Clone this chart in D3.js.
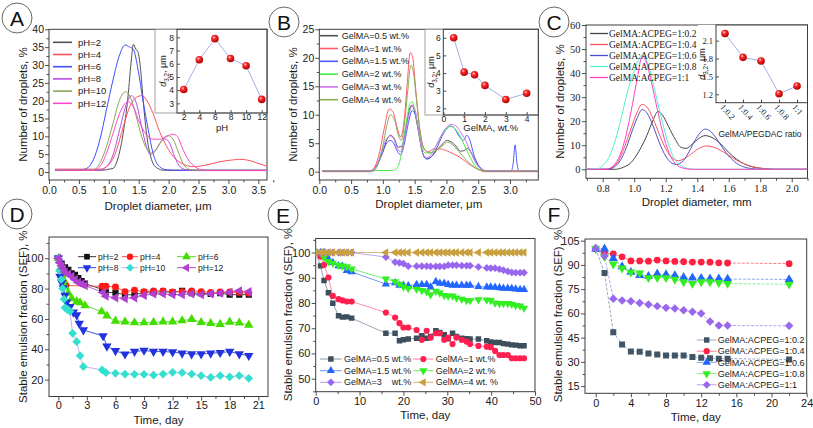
<!DOCTYPE html>
<html><head><meta charset="utf-8">
<script src="https://d3js.org/d3.v7.min.js"></script>
<style>html,body{margin:0;padding:0;background:#fff;overflow:hidden}svg{display:block}</style>
</head><body>
<script>
// ================= DATA =================
// Panel A: number of droplets (%) vs droplet diameter (µm), for each pH
const A_labels = ['pH=2','pH=4','pH=6','pH=8','pH=10','pH=12'];
const A_pH2 = [[0.1,0.5],[0.9,0.5],[1.0,0.8],[1.07,1.0],[1.16,4.3],[1.24,10.8],[1.32,21],[1.38,32],[1.41,35.8],[1.45,34.5],[1.49,33.5],[1.53,29],[1.57,21],[1.63,10.8],[1.69,5],[1.74,2.4],[1.82,1.0],[1.92,0.5],[3.7,0.5]];
const A_pH4 = [[0.1,0.8],[0.85,0.8],[1.02,2.4],[1.13,6.2],[1.24,12.6],[1.35,18.3],[1.46,20.9],[1.55,21.4],[1.63,20.2],[1.74,16.4],[1.85,11.3],[1.97,7.1],[2.08,4.3],[2.22,2.4],[2.41,1.5],[2.64,2.0],[2.86,2.9],[3.08,3.4],[3.19,3.55],[3.36,3.2],[3.53,2.2],[3.7,1.4]];
const A_pH6 = [[0.1,0.5],[0.51,0.5],[0.63,1.0],[0.74,3.4],[0.85,9],[0.96,17.4],[1.07,25.8],[1.18,32.8],[1.27,35.6],[1.35,35],[1.41,34.4],[1.49,28.6],[1.57,20.2],[1.66,11.8],[1.74,5.2],[1.85,1.5],[1.97,0.6],[2.1,0.5],[3.7,0.5]];
const A_pH8 = [[0.1,0.4],[0.85,0.5],[0.96,1.5],[1.07,4.8],[1.18,11.8],[1.3,19.3],[1.38,21.4],[1.46,19.3],[1.55,12.6],[1.63,7.1],[1.69,5.0],[1.77,5.7],[1.85,8.0],[1.94,9.3],[2.02,8.0],[2.1,4.3],[2.19,1.5],[2.3,0.6],[2.45,0.4],[3.7,0.4]];
const A_pH10 = [[0.1,0.5],[0.72,0.5],[0.85,2.4],[0.96,7.1],[1.07,13.6],[1.18,20.2],[1.28,22.5],[1.38,20.2],[1.46,15.5],[1.55,9.9],[1.63,6.6],[1.71,5.3],[1.8,6.5],[1.91,9.4],[1.99,10.2],[2.08,9.0],[2.16,5.7],[2.24,2.4],[2.36,0.7],[2.47,0.5],[3.7,0.5]];
const A_pH12 = [[0.1,0.5],[0.74,0.5],[0.85,1.5],[0.96,5.2],[1.07,10.8],[1.18,16.4],[1.32,19.7],[1.41,18.3],[1.52,13.6],[1.63,10.4],[1.74,9.2],[1.85,9.2],[1.97,10.0],[2.07,10.6],[2.15,9.9],[2.22,7.1],[2.33,3.4],[2.44,1.5],[2.58,0.5],[2.7,0.4],[3.7,0.4]];
// Inset A: d3,2 (µm) vs pH
const A_ins_pH = [2,4,6,8,10,12];
const A_ins_d32 = [4.05,6.3,7.9,6.4,5.85,3.3];

// Panel B: number of droplets (%) vs diameter (µm) for GelMA concentration
const B_labels = ['GelMA=0.5 wt.%','GelMA=1 wt.%','GelMA=1.5 wt.%','GelMA=2 wt.%','GelMA=3 wt.%','GelMA=4 wt.%'];
const B_05 = [[0.05,0.2],[0.8,0.2],[0.9,1],[1.0,3.5],[1.07,5.8],[1.12,6.4],[1.18,5.8],[1.24,4.3],[1.3,4.5],[1.36,7.5],[1.42,11],[1.46,11.7],[1.5,10.5],[1.56,7],[1.62,3.5],[1.68,2.3],[1.75,2.5],[1.85,3.8],[1.95,5],[2.0,5.5],[2.08,5.2],[2.15,4.5],[2.22,3.6],[2.28,3.7],[2.33,4.1],[2.38,3.5],[2.45,2],[2.52,0.8],[2.6,0.2],[3.45,0.2]];
const B_1 = [[0.05,0],[0.8,0],[0.88,1],[0.95,3.5],[1.02,7.5],[1.1,11],[1.16,10.5],[1.22,8],[1.28,6.1],[1.33,8.5],[1.38,15],[1.43,20.9],[1.47,20],[1.52,14],[1.58,7.5],[1.65,4],[1.72,3.5],[1.8,4],[1.9,4],[2.0,3.7],[2.1,3.2],[2.2,2.6],[2.3,1.8],[2.4,1],[2.5,0.4],[2.6,0],[3.45,0]];
const B_15 = [[0.05,0.1],[0.82,0.1],[0.9,1],[0.98,3],[1.05,4.8],[1.11,5.5],[1.17,5],[1.23,3.5],[1.28,3],[1.34,5],[1.4,8.5],[1.46,10.7],[1.5,10.3],[1.56,7.5],[1.62,3.5],[1.69,2.2],[1.76,2.6],[1.85,4.2],[1.93,6.2],[2.0,7.5],[2.06,8],[2.12,7.7],[2.2,6.2],[2.27,5.5],[2.32,6.4],[2.37,5.5],[2.43,3],[2.5,1.2],[2.58,0.3],[2.65,0.1],[3.02,0.1],[3.05,1.5],[3.08,4.7],[3.11,1.5],[3.14,0.1],[3.45,0.1]];
const B_2 = [[0.05,0.2],[1.15,0.2],[1.22,0.6],[1.28,2.5],[1.33,6],[1.38,9.5],[1.43,12],[1.46,12.3],[1.5,11],[1.55,8],[1.61,4.5],[1.67,3.3],[1.75,3.3],[1.85,4.8],[1.93,6.5],[2.0,7.5],[2.06,8],[2.13,7.6],[2.2,6.5],[2.28,4.7],[2.36,2.8],[2.44,1.2],[2.52,0.4],[2.6,0.2],[3.45,0.2]];
const B_3 = [[0.05,0.2],[0.82,0.2],[0.9,1],[0.98,3.5],[1.05,5.6],[1.11,6.3],[1.17,5.8],[1.23,4],[1.28,3.5],[1.34,6],[1.4,9.5],[1.46,11.5],[1.5,11],[1.56,7.5],[1.62,3.5],[1.69,2.4],[1.76,3],[1.85,4.8],[1.93,6.6],[2.0,7.8],[2.07,8.3],[2.15,8],[2.22,7],[2.3,5.5],[2.38,3.5],[2.46,1.6],[2.54,0.5],[2.62,0.2],[3.45,0.2]];
const B_4 = [[0.05,0.1],[0.85,0.1],[0.92,1.2],[1.0,4.5],[1.06,8],[1.12,10],[1.18,9.2],[1.24,6.5],[1.29,5.5],[1.34,8.5],[1.39,14],[1.44,18.7],[1.48,17.5],[1.53,12.5],[1.6,6],[1.67,3.7],[1.75,3.3],[1.85,3.8],[1.95,4.7],[2.02,5.2],[2.1,4.7],[2.2,3.5],[2.3,2.2],[2.4,1.1],[2.5,0.4],[2.6,0.1],[3.45,0.1]];
// Inset B: d3,2 (µm) vs GelMA wt.%
const B_ins_wt = [0.5,1,1.5,2,3,4];
const B_ins_d32 = [6.0,4.05,3.9,3.3,2.5,2.85];

// Panel C: number of droplets (%) vs diameter (mm) for GelMA:ACPEG ratio
const C_labels = ['GelMA:ACPEG=1:0.2','GelMA:ACPEG=1:0.4','GelMA:ACPEG=1:0.6','GelMA:ACPEG=1:0.8','GelMA:ACPEG=1:1'];
const C_02 = [[0.7,0],[0.88,0],[0.93,0.8],[0.98,2.8],[1.03,7.5],[1.08,14],[1.12,20.5],[1.15,24],[1.18,22.5],[1.22,17.5],[1.26,12.5],[1.3,9],[1.33,8.7],[1.37,10.5],[1.41,12.8],[1.45,14],[1.5,13],[1.55,10.5],[1.6,7],[1.65,4.2],[1.7,2.2],[1.75,1],[1.82,0.3],[1.9,0],[2.1,0]];
const C_04 = [[0.7,0],[0.82,0],[0.86,0.8],[0.9,3.5],[0.94,9.5],[0.98,17],[1.02,24],[1.05,27],[1.08,26],[1.12,21],[1.16,14.5],[1.2,8.5],[1.24,4.8],[1.28,3.6],[1.32,4.5],[1.37,6.8],[1.42,9],[1.46,9.7],[1.5,9.3],[1.55,7.8],[1.6,5.8],[1.65,3.8],[1.7,2.2],[1.75,1.1],[1.82,0.3],[1.9,0],[2.1,0]];
const C_06 = [[0.7,0],[0.83,0],[0.87,0.8],[0.91,3.5],[0.95,9],[0.99,16.5],[1.02,21.5],[1.05,24.8],[1.08,23.5],[1.12,18],[1.16,11],[1.2,5.5],[1.24,2.5],[1.27,2],[1.31,3.5],[1.35,7.5],[1.39,12.5],[1.43,16],[1.45,16.7],[1.48,16],[1.52,13],[1.56,9],[1.6,5.5],[1.65,2.5],[1.7,0.9],[1.76,0.2],[1.82,0],[2.1,0]];
const C_08 = [[0.7,0],[0.77,0.3],[0.8,1.5],[0.84,5],[0.88,12],[0.92,22],[0.96,33],[1.0,41],[1.03,46],[1.05,47.5],[1.07,46.5],[1.1,41],[1.13,33],[1.17,22],[1.21,12],[1.25,5],[1.29,1.8],[1.33,0.5],[1.38,0],[2.1,0]];
const C_1 = [[0.7,0],[0.82,0],[0.86,1],[0.9,4.5],[0.94,12],[0.98,24],[1.02,38],[1.05,47],[1.08,44],[1.11,36],[1.15,24],[1.19,13],[1.23,5.5],[1.27,1.8],[1.31,0.5],[1.36,0],[2.1,0]];
// Inset C: d3,2 vs GelMA/PEGDAC ratio
const C_ins_ratio = ['1:0.2','1:0.4','1:0.6','1:0.8','1:1'];
const C_ins_d32 = [2.22,1.82,1.76,1.21,1.34];

// Panel D: stable emulsion fraction (%) vs time (day), pH series  [day, SEF]
const D_labels = ['pH=2','pH=4','pH=6','pH=8','pH=10','pH=12'];
const D_pH2 = [[0,100],[0.35,96.5],[0.7,94],[1.05,92.3],[1.4,90],[1.75,89],[2.1,87],[2.45,85],[2.8,83.3],[4.6,79.5],[5,77.5],[6,77.3],[7,76],[8,75.8],[9,77.7],[10,77.5],[11,78],[12,77.5],[13,78.5],[14,77],[15,77],[16,76.5],[17,77],[18,76],[19,76],[20,76]];
const D_pH4 = [[0,100],[0.2,92],[0.4,88],[0.6,84],[0.8,82],[4.6,81.5],[5,81.5],[6,81],[7,78],[8,79],[9,78],[10,78.5],[11,78.5],[12,77.8],[13,78],[14,78.5],[15,78],[16,77.5],[17,77.8],[18,77.8],[19,77.5],[20,77]];
const D_pH6 = [[0,100],[0.17,93],[0.35,88.5],[0.52,85.5],[0.7,81.5],[1.05,77],[1.4,73.5],[1.93,71.5],[2.28,70.8],[2.8,68.8],[4.55,64.8],[5.1,62],[6,58.7],[7,58.2],[8,57.6],[9,57.6],[10,57.8],[11,58.2],[12,58.2],[13,58.9],[14,59.8],[15,57.8],[16,57.1],[17,56.5],[18,58],[19,57.4],[20,56]];
const D_pH8 = [[0,100],[0.17,88],[0.35,84],[0.52,80.5],[0.7,75.5],[0.875,71],[1.22,68],[1.58,64.4],[1.93,62.6],[2.2,57],[2.63,52.7],[4.7,48.8],[5.1,42],[6,39],[7,36.8],[8,38.5],[9,39.3],[10,38.5],[11,38.5],[12,38.2],[13,37.4],[14,36.9],[15,36.9],[16,37.4],[17,37.8],[18,38.5],[19,36.9],[20,35.8]];
const D_pH10 = [[0,100],[0.15,92],[0.3,86],[0.45,80],[0.6,73],[0.7,67.5],[0.875,66.5],[1.05,66],[1.22,65],[1.5,50.5],[1.93,45],[2.28,35.8],[2.63,28.6],[4.6,26.4],[5,24.6],[6,24.2],[7,23.7],[8,23.5],[9,23.5],[10,23],[11,23.7],[12,24.8],[13,24.6],[14,23.7],[15,22.6],[16,21.5],[17,22.6],[18,21.8],[19,22.6],[20,20.9]];
const D_pH12 = [[0,100],[0.17,97],[0.35,95],[0.52,93],[0.7,91],[1.05,89.5],[1.4,88],[1.75,86],[2.1,84],[2.45,83],[2.8,82],[4.7,77.5],[5,75],[6,74],[7,73.5],[8,74],[9,75.5],[10,76.5],[11,76.5],[12,76],[13,76],[14,76.5],[15,76],[16,76.5],[17,77],[18,77.5],[19,78.5],[20,78]];

// Panel E: SEF (%) vs time (day) for GelMA concentration
const E_labels = ['GelMA=0.5 wt.%','GelMA=1 wt.%','GelMA=1.5 wt.%','GelMA=2 wt.%','GelMA=3    wt.%','GelMA=4 wt. %'];
const E_days = [0,1.1,1.9,2.9,3.9,5.2,6.1,7.1,8.2,16,18.1,19.1,20,21.1,23,24.2,25.3,26.2,27.4,28.3,29.3,30.2,31.2,32.1,33.3,34.4,35.2,37.1,39,39.9,40.9,41.9,42.8,43.8,44.7,45.6,46.6,47.5];
const E_05 = [100,94.7,88.9,84.1,79.9,74.9,74.4,74.5,74,68,68,65,65.4,65.7,66,67,66,66.7,69,68.3,67.4,65.8,68,66.7,66,65.8,65.7,65.7,65,64.5,64.3,64.3,63.9,63.7,63.4,63.3,63.1,63.1];
const E_1 = [100,98.4,95.1,90.1,82.8,81.5,81,80.6,80.6,76.2,74.2,72,70.3,70.3,69.3,65.4,69,66.3,68,68,65.4,66.3,63.7,66.3,65.4,64.7,63.7,63,62.7,62.5,61,59.4,59.4,59.4,58.1,58.1,58.1,58.1];
const E_15 = [100,100,100,97.5,96,94.7,94.5,92.8,92.3,87.5,88,87,87,86.8,87.3,87.3,87.3,86.3,88.5,87.8,87.8,87.3,87,87,87,87,87,86.5,86.3,86.3,86.2,86,85.8,85.8,85.7,85.5,85.3,85.3];
const E_2 = [100,100,98,96.5,95.8,95,94.7,94.4,93.5,89.5,88.5,87.5,86.5,85.8,85.5,85,84.5,83.3,84.7,84,83,82.8,82.8,82,81.5,81,81,81.3,81.2,81,80,79.8,79.8,79.8,79.5,79,78.8,78];
const E_3 = [100,100,100,100,100,100,100,100,100,98.2,96.2,95.9,95.6,94.6,94.6,94.6,94.6,94.5,94.5,94.5,94.5,95,95,95,94.8,94.8,94.8,94.3,93.9,93.8,93.8,93.4,93,92.5,92.1,92,92,92];
const E_4 = [100,100,100,100,100,100,100,100,100,100,100,100,100,100,100,100,100,100,100,100,100,100,100,100,100,100,100,100,100,100,100,100,100,100,100,100,100,100];

// Panel F: SEF (%) vs time (day) for GelMA:ACPEG ratio
const F_labels = ['GelMA:ACPEG=1:0.2','GelMA:ACPEG=1:0.4','GelMA:ACPEG=1:0.6','GelMA:ACPEG=1:0.8','GelMA:ACPEG=1:1'];
const F_days = [0,1,2,3,4,5,6,7,8,9,10,11,12,13,14,15,22];
const F_02 = [100,85,48.3,40.8,36.4,36.2,35.2,34.5,34,34,34,33,32.5,32.3,32,32,31.5];
const F_04 = [100,97.7,96.8,95,92.5,92.5,92.3,93,92.5,92.2,92,91.8,91.8,91.7,91.3,91.2,90.8];
const F_06 = [100,100,94,89,85.5,83.5,83,84.5,84,83.5,82.3,82,81.8,81.5,81.5,81.3,81];
const F_08 = [100,95,90.5,88,85.5,85,82,82,82,81,79.5,78.5,79.5,79.5,79,78.5,78];
const F_1 = [100,95.5,69,68,67.5,66.5,65.5,64.5,63.5,63,62,61,60,55,52.5,52.5,52.3];

// tick values
const A_xt = [0,0.5,1,1.5,2,2.5,3,3.5], A_yt = [0,5,10,15,20,25,30,35,40];
const A_ins_xt = [2,4,6,8,10,12], A_ins_yt = [3,4,5,6,7,8];
const B_xt = [0,0.5,1,1.5,2,2.5,3], B_yt = [0,5,10,15,20,25];
const B_ins_xt = [0,1,2,3,4], B_ins_yt = [2,3,4,5,6];
const C_xt = [0.8,1.0,1.2,1.4,1.6,1.8,2.0], C_yt = [0,10,20,30,40,50,60];
const C_ins_yt = [1.2,1.5,1.8,2.1];
const D_xt = [0,3,6,9,12,15,18,21], D_yt = [20,40,60,80,100];
const E_xt = [0,10,20,30,40,50], E_yt = [50,60,70,80,90,100];
const F_xt = [0,4,8,12,16,20,24], F_yt = [15,30,45,60,75,90,105];

// ================= DRAWING =================
const SANS = '"Liberation Sans", Arial, sans-serif';
const SERIF = '"Liberation Serif", "Times New Roman", serif';
const AXC = '#3c3c3c';
const svg = d3.select('body').append('svg').attr('width',813).attr('height',428)
  .style('font-family',SANS);
const defs = svg.append('defs');
const grad = defs.append('radialGradient').attr('id','ball').attr('cx','0.38').attr('cy','0.34').attr('r','0.66');
grad.append('stop').attr('offset','0').attr('stop-color','#ffe0e0');
grad.append('stop').attr('offset','0.32').attr('stop-color','#ff2b2b');
grad.append('stop').attr('offset','1').attr('stop-color','#b00000');

let clipN = 0;
function minorBetween(arr){const o=[];for(let i=0;i<arr.length-1;i++)o.push((arr[i]+arr[i+1])/2);return o;}

function axes(c){
  const x = d3.scaleLinear().domain(c.xd).range([c.L,c.R]);
  const y = d3.scaleLinear().domain(c.yd).range([c.B,c.T]);
  const g = svg.append('g');
  if (c.bg) g.append('rect').attr('x',c.bg[0]).attr('y',c.bg[1]).attr('width',c.bg[2]).attr('height',c.bg[3])
      .attr('fill','#fff').attr('stroke',c.bgStroke||'none').attr('stroke-width',0.8);
  const font = c.font||SANS, fs = c.fs||11;
  const tk = c.tk===undefined?4:c.tk, tkm = c.tkm===undefined?2.5:c.tkm;
  if (c.xm) g.append('g').attr('transform',`translate(0,${c.B})`)
      .call(d3.axisBottom(x).tickValues(c.xm).tickSize(tkm).tickFormat(''));
  if (c.ym) g.append('g').attr('transform',`translate(${c.L},0)`)
      .call(d3.axisLeft(y).tickValues(c.ym).tickSize(tkm).tickFormat(''));
  if (c.xt) g.append('g').attr('transform',`translate(0,${c.B})`)
      .call(d3.axisBottom(x).tickValues(c.xt).tickFormat(c.xf||(d=>d)).tickSize(tk).tickPadding(c.xpad===undefined?2:c.xpad));
  if (c.yt) g.append('g').attr('transform',`translate(${c.L},0)`)
      .call(d3.axisLeft(y).tickValues(c.yt).tickFormat(c.yf||(d=>d)).tickSize(tk).tickPadding(c.ypad===undefined?1.5:c.ypad));
  g.selectAll('.domain').remove();
  g.selectAll('.tick line').attr('stroke',AXC).attr('stroke-width',0.9);
  g.selectAll('.tick text').attr('font-family',font).attr('font-size',fs).attr('fill','#1a1a1a');
  g.append('rect').attr('x',c.L).attr('y',c.T).attr('width',c.R-c.L).attr('height',c.B-c.T)
    .attr('fill','none').attr('stroke',AXC).attr('stroke-width',1);
  const id = 'clip'+(clipN++);
  defs.append('clipPath').attr('id',id).append('rect').attr('x',c.L).attr('y',c.T).attr('width',c.R-c.L).attr('height',c.B-c.T);
  const plot = g.append('g').attr('clip-path',`url(#${id})`);
  return {x,y,g,plot,c};
}

function title(x,y,txt,fs,rot){
  const t = svg.append('text').attr('font-size',fs||11.5).attr('fill','#1a1a1a').attr('text-anchor','middle')
    .attr('dy','0.35em').text(txt);
  if (rot) t.attr('transform',`translate(${x},${y}) rotate(-90)`); else t.attr('x',x).attr('y',y);
  return t;
}
function d32title(x,y,fs){
  const t = svg.append('text').attr('font-size',fs).attr('fill','#1a1a1a').attr('text-anchor','middle')
    .attr('transform',`translate(${x},${y}) rotate(-90)`).attr('dy','0.35em');
  t.append('tspan').attr('font-style','italic').text('d');
  t.append('tspan').attr('font-size',fs*0.7).attr('dy',fs*0.3).text('3,2');
  t.append('tspan').attr('dy',-fs*0.3).text(', μm');
}
function letter(cx,cy,L){
  svg.append('circle').attr('cx',cx).attr('cy',cy).attr('r',15).attr('fill','none').attr('stroke','#555').attr('stroke-width',0.9);
  svg.append('text').attr('x',cx).attr('y',cy).attr('dy','0.36em').attr('text-anchor','middle').attr('font-size',21).attr('fill','#111').text(L);
}

const SYM = {square:[d3.symbolSquare,0],circle:[d3.symbolCircle,0],up:[d3.symbolTriangle,0],down:[d3.symbolTriangle,180],diamond:[d3.symbolSquare,45],left:[d3.symbolTriangle,-90]};
function symPath(g,pts,type,color,size,xs,ys){
  const [s,r] = SYM[type];
  g.selectAll(null).data(pts).join('path').attr('d',d3.symbol(s,size)())
    .attr('transform',d=>`translate(${xs(d)},${ys(d)}) rotate(${r})`).attr('fill',color);
}
function curve(P,data,color,w,smooth,dash){
  const line = d3.line().x(d=>P.x(d[0])).y(d=>P.y(d[1])).curve(smooth?d3.curveMonotoneX:d3.curveLinear);
  const p = P.plot.append('path').datum(data).attr('d',line).attr('fill','none').attr('stroke',color).attr('stroke-width',w||1);
  if (dash) p.attr('stroke-dasharray',dash);
}
function legendLine(x1,x2,tx,y,color,label,fs,font,lw,sym,mcol,msize){
  svg.append('line').attr('x1',x1).attr('x2',x2).attr('y1',y).attr('y2',y).attr('stroke',color).attr('stroke-width',lw||1.5);
  if (sym) symPath(svg,[0],sym,mcol,msize,()=> (x1+x2)/2,()=>y);
  svg.append('text').attr('x',tx).attr('y',y).attr('dy','0.35em').attr('font-size',fs).attr('font-family',font||SANS)
    .attr('fill','#1a1a1a').style('white-space','pre').attr('xml:space','preserve').text(label);
}
function inset(P, xv, yv, xsc){
  const line = d3.line().x((d,i)=>xsc(i)).y(d=>P.y(d));
  P.plot.append('path').datum(yv).attr('d',line).attr('fill','none').attr('stroke','#9fb0e6').attr('stroke-width',1);
  P.plot.selectAll(null).data(yv).join('circle').attr('cx',(d,i)=>xsc(i)).attr('cy',d=>P.y(d)).attr('r',3.8).attr('fill','url(#ball)');
}

// ---------- Panel A ----------
const A_col = ['#505050','#ff5060','#3f4dff','#b64ae4','#88a655','#ff48c8'];
const PA = axes({L:49,R:267,T:29.3,B:180,xd:[0,3.645],yd:[-2.24,40],xt:A_xt,yt:A_yt,
  xm:minorBetween(A_xt).concat([3.75]),ym:minorBetween(A_yt),xf:d3.format('.1f'),fs:10.5,xpad:2.3,ypad:1});
[A_pH2,A_pH4,A_pH6,A_pH8,A_pH10,A_pH12].forEach((d,i)=>curve(PA,d,A_col[i],1,true));
A_labels.forEach((l,i)=>legendLine(53,72,78,42.3+12.2*i,A_col[i],l,9.5,SANS,1.6));
const PAi = axes({L:177,R:267,T:29.3,B:113,xd:[1.14,12.68],yd:[2.27,8.61],xt:A_ins_xt,yt:A_ins_yt,
  tk:-3,fs:8.5,xpad:1.2,ypad:3,bg:[155,29.3,112,83.7],bgStroke:'#8a8a8a'});
inset(PAi,A_ins_pH,A_ins_d32,i=>PAi.x(A_ins_pH[i]));
title(222,128,'pH',9.5);
d32title(163,71,9);
title(158,206,'Droplet diameter, μm',11.5);
title(22.7,104.6,'Number of droplets, %',11.5,true);
letter(17,18,'A');

// ---------- Panel B ----------
const B_col = ['#555555','#ff5a6a','#4a5cff','#44ee44','#d070f0','#8aaa55'];
const PB = axes({L:319.3,R:538.3,T:29.3,B:180,xd:[0,3.445],yd:[-1.46,25],xt:B_xt,yt:B_yt,
  xm:minorBetween(B_xt).concat([3.25]),ym:minorBetween(B_yt),xf:d3.format('.1f'),fs:10.5,xpad:2.5,ypad:1});
[B_05,B_1,B_15,B_2,B_3,B_4].forEach((d,i)=>curve(PB,d,B_col[i],1,true));
B_labels.forEach((l,i)=>legendLine(320,338,341.7,35.7+12.8*i,B_col[i],l,9,SANS,1.6));
const PBi = axes({L:443.3,R:538.3,T:29.3,B:115,xd:[0,4.56],yd:[1.62,6.48],xt:B_ins_xt,yt:B_ins_yt,
  tk:-3,fs:8.5,xpad:0.8,ypad:2.6,bg:[425,29.3,113.3,85.7],bgStroke:'#8a8a8a'});
inset(PBi,B_ins_wt,B_ins_d32,i=>PBi.x(B_ins_wt[i]));
title(490.8,128,'GelMA, wt.%',9.5);
d32title(431,72,9);
title(428.8,204,'Droplet diameter, μm',11.5);
title(292.7,104.6,'Number of droplets, %',11.5,true);
letter(284,22,'B');

// ---------- Panel C ----------
const C_col = ['#454545','#ff5060','#4a50c8','#55f0d0','#ff40c0'];
const PC = axes({L:586,R:807.5,T:25,B:178.3,xd:[0.694,2.1],yd:[-3.75,60],xt:C_xt,yt:C_yt,
  xm:[0.7,0.9,1.1,1.3,1.5,1.7,1.9,2.1],ym:minorBetween(C_yt),xf:d3.format('.1f'),font:SERIF,fs:10.5,xpad:2.3,ypad:1.5});
[C_02,C_04,C_06,C_08,C_1].forEach((d,i)=>curve(PC,d,C_col[i],1,true));
C_labels.forEach((l,i)=>legendLine(590,608,609,33.5+11*i,C_col[i],l,9.5,SERIF,1.3));
const PCi = axes({L:716,R:807.5,T:25,B:102.7,xd:[-0.5,4.58],yd:[1.059,2.363],yt:C_ins_yt,yf:d3.format('.1f'),
  tk:-3,font:SERIF,fs:8.5,ypad:3,bg:[698,25,109.5,77.7]});
PCi.g.append('g').attr('transform',`translate(0,${102.7})`).call(d3.axisBottom(PCi.x).tickValues([0,1,2,3,4]).tickSize(-3).tickFormat(''))
  .call(g=>{g.select('.domain').remove();g.selectAll('line').attr('stroke',AXC);});
C_ins_ratio.forEach((r,i)=>{
  svg.append('text').attr('font-family',SERIF).attr('font-size',8.5).attr('fill','#1a1a1a')
    .attr('transform',`translate(${PCi.x(i)-3},${105.5}) rotate(48)`).attr('dy','0.35em').text(r);
});
inset(PCi,C_ins_ratio,C_ins_d32,i=>PCi.x(i));
title(760,134,'GelMA/PEGDAC ratio',8.5);
d32title(702,64,9);
title(696.7,202,'Droplet diameter, mm',11.5);
title(560,101.6,'Number of droplets, %',11.5,true);
letter(554,22,'C');

// ---------- Panel D ----------
const D_mcol = ['#111111','#ff1a1a','#44dd00','#2233dd','#33e0d0','#b040d0'];
const D_lcol = ['#333333','#ff4444','#55dd22','#3344dd','#b8a8e8','#b050d8'];
const D_sym = ['square','circle','up','down','diamond','left'];
const PD = axes({L:49,R:268,T:237,B:396.5,xd:[-0.98,22.02],yd:[8.9,114],xt:D_xt,yt:D_yt,
  xm:minorBetween(D_xt),ym:[30,50,70,90,110],fs:11,xpad:0.8,ypad:1.5});
const D_all = [D_pH2,D_pH4,D_pH6,D_pH8,D_pH10,D_pH12];
D_all.forEach((d,i)=>curve(PD,d,D_lcol[i],0.9,false));
D_all.forEach((d,i)=>symPath(PD.plot,d,D_sym[i],D_mcol[i],38,p=>PD.x(p[0]),p=>PD.y(p[1])));
const D_lx = [[78,96,98],[122,138,140],[177,196,198]];
D_labels.forEach((l,i)=>{const c=D_lx[i%3],y=i<3?256.7:267.7;
  legendLine(c[0],c[1],c[2],y,D_lcol[i],l,8.5,SANS,1,D_sym[i],D_mcol[i],32);});
title(158.5,420,'Time, day',11.5);
title(22.7,316.7,'Stable emulsion fraction (SEF), %',11.5,true);
letter(17,214,'D');

// ---------- Panel E ----------
const E_mcol = ['#3d4f5c','#ff2050','#2266ff','#33ee22','#9966ee','#c8a040'];
const E_lcol = ['#8a9aaa','#ff80a0','#6a90ff','#66ee66','#b0a0f0','#d2b070'];
const E_sym = ['square','circle','up','down','diamond','left'];
const PE = axes({L:315.7,R:535,T:238.5,B:391.7,xd:[0,50],yd:[44.85,105.55],xt:E_xt,yt:E_yt,
  xm:minorBetween(E_xt),ym:[45,55,65,75,85,95,105],fs:11,xpad:2,ypad:1.3});
const E_all = [E_05,E_1,E_15,E_2,E_3,E_4];
E_all.forEach((v,i)=>curve(PE,d3.zip(E_days,v),E_lcol[i],0.9,false));
E_all.forEach((v,i)=>symPath(PE.plot,d3.zip(E_days,v),E_sym[i],E_mcol[i],30,p=>PE.x(p[0]),p=>PE.y(p[1])));
const E_lx = [[320,341.7,344],[413.3,433.3,435.7]];
E_labels.forEach((l,i)=>{const c=E_lx[i%2],y=[359,370.7,382.3][Math.floor(i/2)];
  legendLine(c[0],c[1],c[2],y,E_lcol[i],l,9,SANS,1,E_sym[i],E_mcol[i],30);});
title(425.3,415,'Time, day',11.5);
title(288.3,315,'Stable emulsion fraction (SEF), %',11.5,true);
letter(283,215,'E');

// ---------- Panel F ----------
const F_mcol = ['#405565','#ff2040','#2266ff','#33ee22','#9966ee'];
const F_lcol = ['#9aa8c8','#ff8090','#8aa8ee','#88ee88','#b8a0f0'];
const F_sym = ['square','circle','up','down','diamond'];
const PF = axes({L:585,R:806.7,T:239,B:393.3,xd:[-1.22,24],yd:[10.54,106.05],xt:F_xt,yt:F_yt,
  xm:minorBetween(F_xt),ym:[22.5,37.5,52.5,67.5,82.5,97.5],fs:11,xpad:1.5,ypad:1.3});
const F_all = [F_02,F_04,F_06,F_08,F_1];
F_all.forEach((v,i)=>curve(PF,d3.zip(F_days,v),F_lcol[i],1,false,'3,1.5'));
F_all.forEach((v,i)=>symPath(PF.plot,d3.zip(F_days,v),F_sym[i],F_mcol[i],36,p=>PF.x(p[0]),p=>PF.y(p[1])));
F_labels.forEach((l,i)=>legendLine(696.7,716.7,717.7,340+11.2*i,F_lcol[i],l,9,SANS,1,F_sym[i],F_mcol[i],30));
title(695.8,417,'Time, day',11.5);
title(558.3,316,'Stable emulsion fraction (SEF), %',11.5,true);
letter(554,214,'F');
</script>
</body></html>
